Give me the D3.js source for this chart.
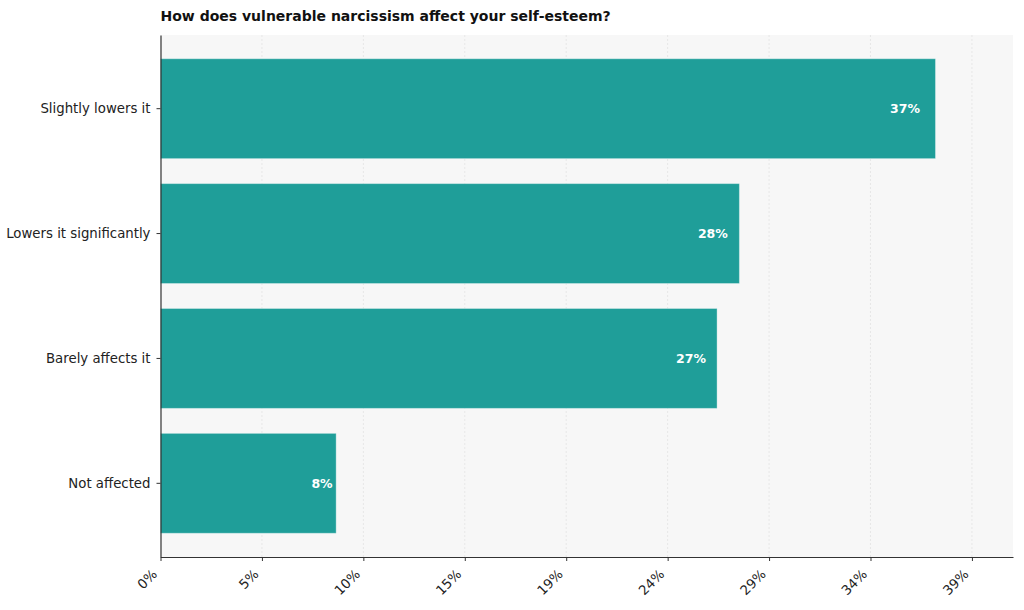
<!DOCTYPE html>
<html>
<head>
<meta charset="utf-8">
<script src="https://cdn.jsdelivr.net/npm/d3@7"></script>
<style>
  body { margin: 0; background: #fff; }
  svg { display: block; font-family: "DejaVu Sans", sans-serif; }
</style>
</head>
<body>
<svg id="chart" width="1024" height="610"></svg>
<script>
// categories, top to bottom
const categories = ["Slightly lowers it", "Lowers it significantly", "Barely affects it", "Not affected"];
// share of answers, in percent
const values = [37.15, 27.75, 26.68, 8.42];
// tick labels along the x axis
const tickLabels = ["0%", "5%", "10%", "15%", "19%", "24%", "29%", "34%", "39%"];

const W = 1024, H = 610;
const margin = { top: 35, right: 11, bottom: 53, left: 160.5 };
const innerW = W - margin.left - margin.right;
const innerH = H - margin.top - margin.bottom;

const svg = d3.select("#chart");
const g = svg.append("g").attr("transform", `translate(${margin.left},${margin.top})`);

const vmax = d3.max(values);
const x = d3.scaleLinear().domain([0, vmax * 1.1]).range([0, innerW]);
const y = d3.scaleBand().domain(categories).range([0, innerH])
  .paddingInner(0.2).paddingOuter(0.19);

// tick positions spread evenly up to a bit past the largest value
const tickStep = vmax * 1.047 / (tickLabels.length - 1);
const tickVals = tickLabels.map((_, i) => i * tickStep);

// plot background
g.append("rect")
  .attr("width", innerW)
  .attr("height", innerH)
  .attr("fill", "#f7f7f7");

// vertical grid
g.selectAll(".grid")
  .data(tickVals.slice(1))
  .join("line")
  .attr("x1", d => x(d))
  .attr("x2", d => x(d))
  .attr("y1", 0)
  .attr("y2", innerH)
  .attr("stroke", "#e2e2e2")
  .attr("stroke-width", 0.8)
  .attr("stroke-dasharray", "2,2");

// bars
g.selectAll(".bar")
  .data(values)
  .join("rect")
  .attr("x", 0)
  .attr("y", (d, i) => y(categories[i]))
  .attr("width", d => x(d))
  .attr("height", y.bandwidth())
  .attr("fill", "#1f9e99")
  .attr("stroke", "rgba(255,255,255,0.35)")
  .attr("stroke-width", 1);

// value labels inside the bars
g.selectAll(".val")
  .data(values)
  .join("text")
  .attr("x", d => x(d * 0.98))
  .attr("y", (d, i) => y(categories[i]) + y.bandwidth() / 2)
  .attr("dy", "0.35em")
  .attr("text-anchor", "end")
  .attr("fill", "#fff")
  .attr("font-weight", "bold")
  .attr("font-size", 12.5)
  .text(d => Math.round(d) + "%");

// y axis
const yAxis = g.append("g")
  .call(d3.axisLeft(y).tickSize(4).tickSizeOuter(0).tickPadding(6));
yAxis.select(".domain").attr("stroke", "#333").attr("stroke-width", 1.2);
yAxis.selectAll(".tick line").attr("stroke", "#333");
yAxis.selectAll("text").attr("font-size", 13.3).attr("fill", "#222")
  .attr("font-family", "DejaVu Sans, sans-serif");

// x axis
const xAxis = g.append("g")
  .attr("transform", `translate(0,${innerH})`)
  .call(d3.axisBottom(x).tickValues(tickVals).tickSize(4).tickSizeOuter(0)
    .tickFormat((d, i) => tickLabels[i]));
xAxis.select(".domain").attr("stroke", "#333").attr("stroke-width", 1.2);
xAxis.selectAll(".tick line").attr("stroke", "#333");
xAxis.selectAll("text")
  .attr("font-size", 13.3)
  .attr("fill", "#222")
  .attr("font-family", "DejaVu Sans, sans-serif")
  .attr("text-anchor", "end")
  .attr("y", 0)
  .attr("dy", null)
  .attr("transform", "translate(-3,18) rotate(-45)");

// title
svg.append("text")
  .attr("x", margin.left)
  .attr("y", 21)
  .attr("font-size", 14)
  .attr("font-weight", "bold")
  .attr("fill", "#111")
  .text("How does vulnerable narcissism affect your self-esteem?");
</script>
</body>
</html>
